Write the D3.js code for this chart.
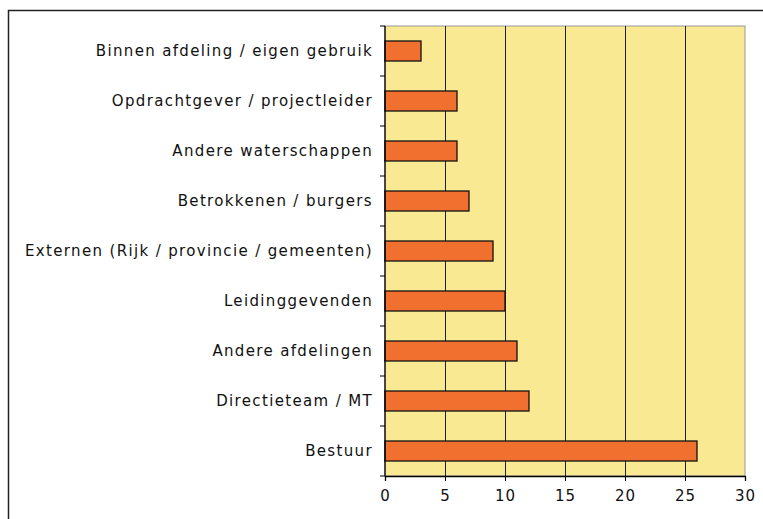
<!DOCTYPE html>
<html>
<head>
<meta charset="utf-8">
<script src="https://cdn.jsdelivr.net/npm/d3@7"></script>
<style>
  body { margin: 0; background: #fff; }
  text { font-family: "DejaVu Sans", Verdana, sans-serif; }
</style>
</head>
<body>
<svg width="763" height="519"></svg>
<script>
var categories = [
    "Binnen afdeling / eigen gebruik",
    "Opdrachtgever / projectleider",
    "Andere waterschappen",
    "Betrokkenen / burgers",
    "Externen (Rijk / provincie / gemeenten)",
    "Leidinggevenden",
    "Andere afdelingen",
    "Directieteam / MT",
    "Bestuur"
];
var values = [3, 6, 6, 7, 9, 10, 11, 12, 26];
var xTicks = [0, 5, 10, 15, 20, 25, 30];

var svg = d3.select("svg");

// outer frame
svg.append("rect")
    .attr("x", 8.5).attr("y", 10.5)
    .attr("width", 770).attr("height", 530)
    .attr("fill", "#fff")
    .attr("stroke", "#222")
    .attr("stroke-width", 1.5);

var plotLeft = 385, plotRight = 745, plotTop = 26, plotBottom = 476;

var x = d3.scaleLinear().domain([0, 30]).range([plotLeft, plotRight]);
var y = d3.scaleBand().domain(categories).range([plotTop, plotBottom]).paddingInner(0.6).paddingOuter(0.3);

// plot background
svg.append("rect")
    .attr("x", plotLeft).attr("y", plotTop)
    .attr("width", plotRight - plotLeft).attr("height", plotBottom - plotTop)
    .attr("fill", "#FAE993")
    .attr("stroke", "#999")
    .attr("stroke-width", 1);

// gridlines
svg.append("g")
    .selectAll("line")
    .data(xTicks.slice(1, -1))
    .enter()
        .append("line")
        .attr("x1", function(d) { return Math.round(x(d)) + 0.5; })
        .attr("x2", function(d) { return Math.round(x(d)) + 0.5; })
        .attr("y1", plotTop)
        .attr("y2", plotBottom)
        .attr("stroke", "#222")
        .attr("stroke-width", 1);

// bars
svg.append("g")
    .selectAll("rect")
    .data(values)
    .enter()
        .append("rect")
        .attr("x", x(0))
        .attr("y", function(d, i) { return y(categories[i]); })
        .attr("width", function(d) { return x(d) - x(0); })
        .attr("height", y.bandwidth())
        .attr("fill", "#F2702F")
        .attr("stroke", "#111")
        .attr("stroke-width", 1.3);

// x axis
var xAxis = svg.append("g")
    .attr("transform", "translate(0," + plotBottom + ")")
    .call(d3.axisBottom(x).tickValues(xTicks).tickSize(5).tickPadding(9));
xAxis.select(".domain").attr("stroke", "#000").attr("stroke-width", 1.3);
xAxis.selectAll(".tick line").attr("stroke", "#000");
xAxis.selectAll("text")
    .attr("font-size", "15px")
    .attr("fill", "#111")
    .attr("letter-spacing", "1px")
    .style("font-family", "DejaVu Sans, Verdana, sans-serif");

// y axis: ticks between categories
var boundaries = d3.range(categories.length + 1).map(function(i) {
    return plotTop + i * (plotBottom - plotTop) / categories.length;
});
svg.append("line")
    .attr("x1", plotLeft).attr("x2", plotLeft)
    .attr("y1", plotTop).attr("y2", plotBottom)
    .attr("stroke", "#000")
    .attr("stroke-width", 1.3);
svg.append("g")
    .selectAll("line")
    .data(boundaries)
    .enter()
        .append("line")
        .attr("x1", plotLeft - 5).attr("x2", plotLeft)
        .attr("y1", function(d) { return d; })
        .attr("y2", function(d) { return d; })
        .attr("stroke", "#000");

svg.append("g")
    .selectAll("text")
    .data(categories)
    .enter()
        .append("text")
        .attr("x", plotLeft - 12)
        .attr("y", function(d) { return y(d) + y.bandwidth() / 2; })
        .attr("dy", "0.35em")
        .attr("text-anchor", "end")
        .attr("font-size", "15px")
        .attr("letter-spacing", "1.35px")
        .attr("fill", "#111")
        .text(function(d) { return d; });
</script>
</body>
</html>
